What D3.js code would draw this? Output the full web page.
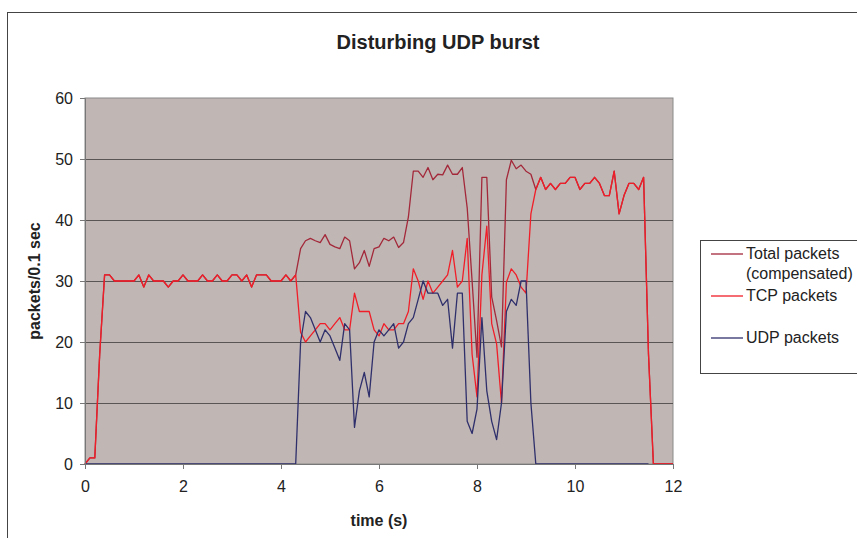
<!DOCTYPE html>
<html>
<head>
<meta charset="utf-8">
<script src="https://cdn.jsdelivr.net/npm/d3@7"></script>
<style>
  body { margin: 0; background: #fff; }
  text { font-family: 'Liberation Sans', Arial, sans-serif; fill: #222; }
</style>
</head>
<body>
<div id="chart"></div>
<script>
// packets per 0.1 s, one sample every 0.1 s starting at t = 0
const totalPackets = [
  0, 1, 1, 18, 31, 31, 30, 30, 30, 30,
  30, 31, 29, 31, 30, 30, 30, 29, 30, 30,
  31, 30, 30, 30, 31, 30, 30, 31, 30, 30,
  31, 31, 30, 31, 29, 31, 31, 31, 30, 30,
  30, 31, 30, 31, 35.3, 36.6, 37, 36.6, 36.3, 37.6,
  36, 35.6, 35.3, 37.2, 36.6, 32, 33, 35, 32.4, 35.3,
  35.6, 37, 36.6, 37.2, 35.5, 36.3, 40.5, 48, 48, 47,
  48.6, 46.6, 47.5, 47.4, 49, 47.5, 47.5, 48.6, 42, 30,
  17.5, 47, 47, 27.4, 23.5, 19.2, 46.6, 49.8, 48.4, 49,
  48, 47.5, 45, 47, 45, 46, 45, 46, 46, 47,
  47, 45, 46, 46, 47, 46, 44, 44, 48, 41,
  44, 46, 46, 45, 47, 18, 0, 0, 0, 0,
  0
]

const tcpPackets = [
  0, 1, 1, 18, 31, 31, 30, 30, 30, 30,
  30, 31, 29, 31, 30, 30, 30, 29, 30, 30,
  31, 30, 30, 30, 31, 30, 30, 31, 30, 30,
  31, 31, 30, 31, 29, 31, 31, 31, 30, 30,
  30, 31, 30, 31, 21.6, 20, 21, 22, 23, 23,
  22, 23, 24, 22, 22, 28, 25, 25, 25, 22,
  21, 23, 22, 22, 23, 23, 25, 32, 30, 27,
  30, 28, 29, 30, 31, 35, 29, 30, 37, 18,
  11, 31, 39, 23, 19.7, 10, 29.8, 32, 31, 29,
  28, 41, 45, 47, 45, 46, 45, 46, 46, 47,
  47, 45, 46, 46, 47, 46, 44, 44, 48, 41,
  44, 46, 46, 45, 47, 18, 0, 0, 0, 0,
  0
]

const udpPackets = [
  0, 0, 0, 0, 0, 0, 0, 0, 0, 0,
  0, 0, 0, 0, 0, 0, 0, 0, 0, 0,
  0, 0, 0, 0, 0, 0, 0, 0, 0, 0,
  0, 0, 0, 0, 0, 0, 0, 0, 0, 0,
  0, 0, 0, 0, 20, 25, 24, 22, 20, 22,
  21, 19, 17, 23, 22, 6, 12, 15, 11, 20,
  22, 21, 22, 23, 19, 20, 23, 24, 27, 30,
  28, 28, 28, 26, 27, 19, 28, 28, 7, 5,
  9, 24, 12, 7, 4, 10, 25, 27, 26, 30,
  30, 10, 0, 0, 0, 0, 0, 0, 0, 0,
  0, 0, 0, 0, 0, 0, 0, 0, 0, 0,
  0, 0, 0, 0, 0, 0
]

const timeStep = 0.1
const xTicks = [0, 2, 4, 6, 8, 10, 12]
const yTicks = [0, 10, 20, 30, 40, 50, 60]
const seriesNames = ['Total packets', 'TCP packets', 'UDP packets']
const seriesColors = ['#a3283a', '#f01e28', '#2f2f6c']

const margin = { top: 98, left: 85, right: 184, bottom: 74 }
const W = 857
const H = 538
const width = W - margin.left - margin.right
const height = H - margin.top - margin.bottom

const root = d3
  .select('#chart')
  .append('svg')
  .attr('width', W)
  .attr('height', H)

// outer chart frame
root
  .append('rect')
  .attr('x', 7.5)
  .attr('y', 12.5)
  .attr('width', 900)
  .attr('height', 600)
  .attr('fill', 'none')
  .attr('stroke', '#444')

root
  .append('text')
  .attr('x', 438)
  .attr('y', 49)
  .attr('text-anchor', 'middle')
  .attr('font-size', 20)
  .attr('font-weight', 'bold')
  .text('Disturbing UDP burst')

const svg = root
  .append('g')
  .attr('transform', 'translate(' + margin.left + ',' + margin.top + ')')

const xPositionScale = d3.scaleLinear().domain([0, 12]).range([0, width])
const yPositionScale = d3.scaleLinear().domain([0, 60]).range([height, 0])

svg
  .append('rect')
  .attr('width', width)
  .attr('height', height)
  .attr('fill', '#c0b7b4')
  .attr('stroke', '#8a8a8a')

svg
  .selectAll('.grid')
  .data(yTicks.filter(d => d > 0 && d < 60))
  .enter()
  .append('line')
  .attr('class', 'grid')
  .attr('x1', 0)
  .attr('x2', width)
  .attr('y1', d => Math.round(yPositionScale(d)) + 0.5)
  .attr('y2', d => Math.round(yPositionScale(d)) + 0.5)
  .attr('stroke', '#5a5555')
  .attr('stroke-width', 1.2)

const line = d3
  .line()
  .x((d, i) => xPositionScale(i * timeStep))
  .y(d => yPositionScale(d))

const allSeries = [totalPackets, tcpPackets, udpPackets]

svg
  .selectAll('.series')
  .data(allSeries)
  .enter()
  .append('path')
  .attr('class', 'series')
  .attr('d', d => line(d))
  .attr('fill', 'none')
  .attr('stroke', (d, i) => seriesColors[i])
  .attr('stroke-width', 1.3)
  .attr('stroke-linejoin', 'round')

const xAxis = d3
  .axisBottom(xPositionScale)
  .tickValues(xTicks)
  .tickSize(5)
  .tickPadding(12)
  .tickFormat(d3.format('d'))

svg
  .append('g')
  .attr('class', 'axis x-axis')
  .attr('transform', 'translate(0,' + height + ')')
  .call(xAxis)

const yAxis = d3
  .axisLeft(yPositionScale)
  .tickValues(yTicks)
  .tickSize(5)
  .tickPadding(7)

svg
  .append('g')
  .attr('class', 'axis y-axis')
  .call(yAxis)

svg.selectAll('.axis path').attr('stroke', '#777')
svg.selectAll('.axis line').attr('stroke', '#777')
svg
  .selectAll('.axis text')
  .attr('font-size', 16)
  .attr('font-family', "'Liberation Sans', Arial, sans-serif")
  .attr('fill', '#222')

svg
  .append('text')
  .attr('x', -height / 2)
  .attr('y', -45)
  .attr('transform', 'rotate(-90)')
  .attr('text-anchor', 'middle')
  .attr('font-size', 16)
  .attr('font-weight', 'bold')
  .text('packets/0.1 sec')

svg
  .append('text')
  .attr('x', width / 2)
  .attr('y', height + 62)
  .attr('text-anchor', 'middle')
  .attr('font-size', 16)
  .attr('font-weight', 'bold')
  .text('time (s)')

// legend
const legend = root.append('g').attr('transform', 'translate(700,240)')

legend
  .append('rect')
  .attr('x', 0.5)
  .attr('y', 0.5)
  .attr('width', 200)
  .attr('height', 133)
  .attr('fill', '#fff')
  .attr('stroke', '#444')

const legendRows = [14, 56, 98]

legend
  .selectAll('.legend-line')
  .data(seriesNames)
  .enter()
  .append('line')
  .attr('x1', 11)
  .attr('x2', 43)
  .attr('y1', (d, i) => legendRows[i])
  .attr('y2', (d, i) => legendRows[i])
  .attr('stroke', (d, i) => seriesColors[i])
  .attr('stroke-width', 1.3)

legend
  .selectAll('.legend-label')
  .data(seriesNames)
  .enter()
  .append('text')
  .attr('x', 46)
  .attr('y', (d, i) => legendRows[i] + 5)
  .attr('font-size', 16)
  .text(d => d)

legend
  .append('text')
  .attr('x', 46)
  .attr('y', legendRows[0] + 25)
  .attr('font-size', 16)
  .text('(compensated)')
</script>
</body>
</html>
